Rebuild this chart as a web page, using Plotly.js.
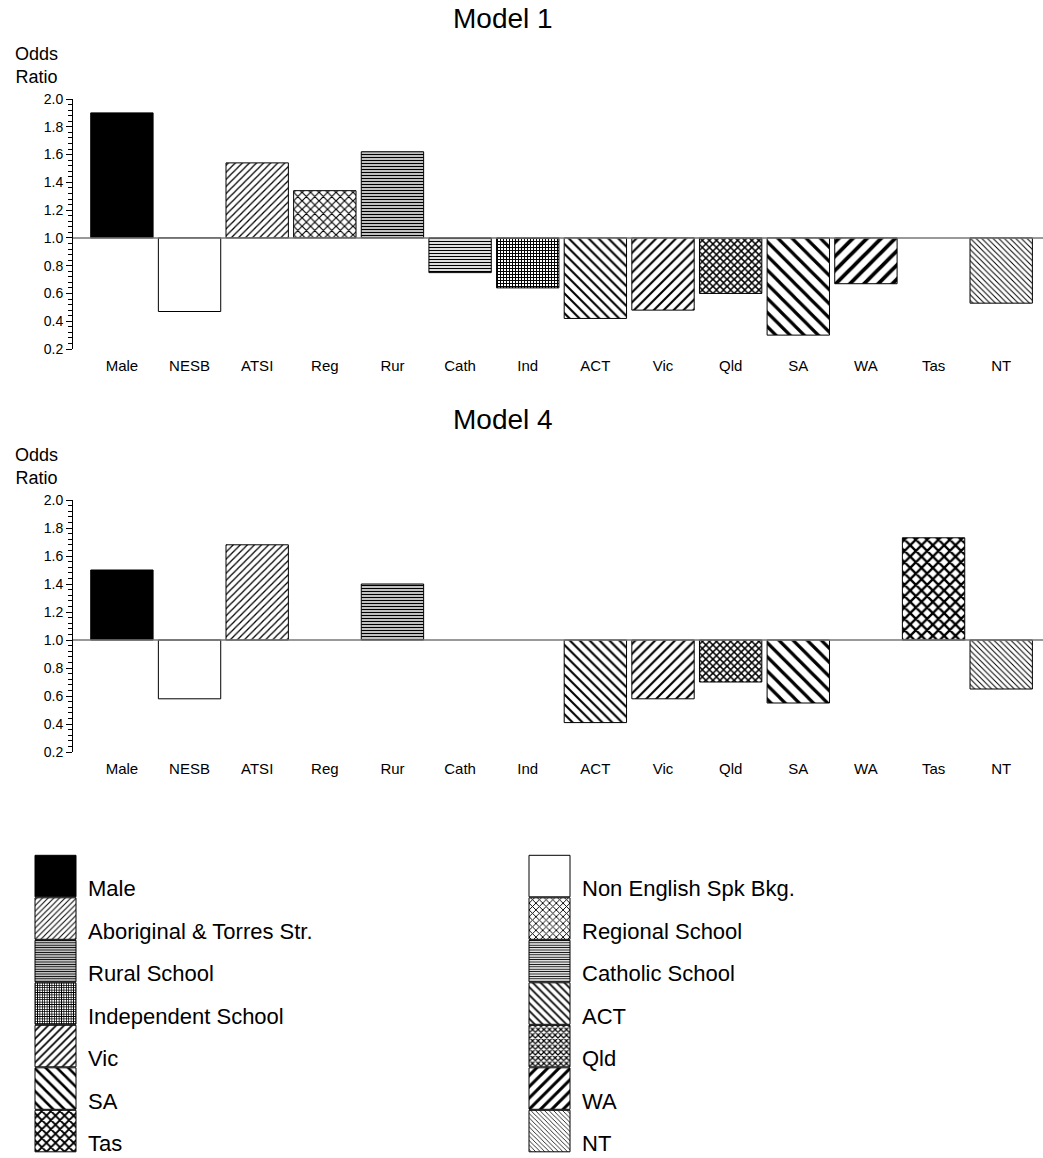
<!DOCTYPE html>
<html>
<head>
<meta charset="utf-8">
<script src="https://cdn.plot.ly/plotly-3.0.1.min.js"></script>
<style>
html,body{margin:0;padding:0;background:#fff;}
#chart{width:1043px;height:1158px;}
</style>
</head>
<body>
<div id="chart"></div>
<script>
// ---- data ----
var categories = ['Male','NESB','ATSI','Reg','Rur','Cath','Ind','ACT','Vic','Qld','SA','WA','Tas','NT'];
var legendLabels = ['Male','Non English Spk Bkg.','Aboriginal & Torres Str.','Regional School','Rural School','Catholic School','Independent School','ACT','Vic','Qld','SA','WA','Tas','NT'];
var model1 = [1.90, 0.47, 1.54, 1.34, 1.62, 0.75, 0.64, 0.42, 0.48, 0.60, 0.30, 0.67, null, 0.53];
var model4 = [1.50, 0.58, 1.68, null, 1.40, null, null, 0.41, 0.58, 0.70, 0.55, null, 1.73, 0.65];
var yTickVals = [0.2, 0.4, 0.6, 0.8, 1.0, 1.2, 1.4, 1.6, 1.8, 2.0];
var yTickText = ['0.2','0.4','0.6','0.8','1.0','1.2','1.4','1.6','1.8','2.0'];

// ---- styles (fill patterns per category) ----
var styles = [
  {color:'#000000'},
  {color:'#ffffff'},
  {shape:'/',  size:5,  solidity:0.25},
  {shape:'x',  size:6,  solidity:0.35},
  {shape:'-',  size:3,  solidity:0.5},
  {shape:'-',  size:3,  solidity:0.42},
  {shape:'+',  size:3,  solidity:0.55},
  {shape:'\\', size:7,  solidity:0.3},
  {shape:'/',  size:7,  solidity:0.3},
  {shape:'x',  size:5,  solidity:0.5},
  {shape:'\\', size:10, solidity:0.32},
  {shape:'/',  size:10, solidity:0.38},
  {shape:'x',  size:8,  solidity:0.5},
  {shape:'\\', size:4,  solidity:0.25}
];

function markerFor(i){
  var s = styles[i];
  var m = {line:{color:'#000', width:1}};
  if (s.shape) {
    m.color = '#ffffff';
    m.pattern = {shape:s.shape, size:s.size, solidity:s.solidity, fgcolor:'#000', fgopacity:1, bgcolor:'#fff', fillmode:'replace'};
  } else {
    m.color = s.color;
  }
  return m;
}

var traces = [];
function addModel(vals, xa, ya, withLegend){
  for (var i = 0; i < categories.length; i++) {
    var v = vals[i];
    traces.push({
      type:'bar',
      x:[categories[i]],
      y:[v === null ? null : v - 1],
      base:1,
      width:0.922,
      name:legendLabels[i],
      legendgroup:'g'+i,
      legend: (i % 2 === 0) ? 'legend' : 'legend2',
      showlegend: withLegend,
      marker: markerFor(i),
      xaxis:xa, yaxis:ya,
      hoverinfo:'x+y'
    });
  }
}
addModel(model1, 'x', 'y', true);
addModel(model4, 'x2', 'y2', false);

var fontFam = 'Arial, "Liberation Sans", sans-serif';

function yAxis(domain){
  return {
    domain:domain, range:[0.2, 2.0], autorange:false,
    showgrid:false, zeroline:false,
    showline:true, linecolor:'#000', linewidth:1,
    ticks:'outside', ticklen:6, tickwidth:1, tickcolor:'#000',
    tickvals:yTickVals, ticktext:yTickText,
    tickfont:{size:14, color:'#000', family:fontFam},
    minor:{dtick:0.04, tick0:0.2, ticks:'outside', ticklen:4, tickwidth:1, tickcolor:'#000', showgrid:false},
    fixedrange:true
  };
}
function xAxis(domain){
  return {
    domain:domain, type:'category', range:[-0.723, 13.618], autorange:false,
    categoryorder:'array', categoryarray:categories,
    showgrid:false, zeroline:false, showline:false, ticks:'',
    tickangle:0, ticklabelstandoff:6,
    tickfont:{size:15, color:'#000', family:fontFam},
    fixedrange:true
  };
}

var legendCommon = {
  orientation:'v', bgcolor:'rgba(0,0,0,0)', borderwidth:0,
  font:{size:22, color:'#000', family:fontFam},
  itemwidth:55, tracegroupgap:10.9,
  xanchor:'left', yanchor:'top', xref:'container', yref:'container',
  itemclick:false, itemdoubleclick:false
};

var layout = {
  width:1043, height:1158,
  margin:{l:73, r:0, t:0, b:0, pad:0, autoexpand:false},
  paper_bgcolor:'#fff', plot_bgcolor:'#fff',
  font:{family:fontFam, color:'#000'},
  barmode:'overlay',
  showlegend:true,
  xaxis: xAxis([0,1]),
  yaxis: Object.assign(yAxis([1-349/1158, 1-99/1158]), {anchor:'x'}),
  xaxis2: Object.assign(xAxis([0,1]), {anchor:'y2'}),
  yaxis2: Object.assign(yAxis([1-752/1158, 1-500/1158]), {anchor:'x2'}),
  legend: Object.assign({}, legendCommon, {x:23/1043, y:1-867/1158}),
  legend2: Object.assign({}, legendCommon, {x:517/1043, y:1-867/1158}),
  shapes:[
    {type:'line', xref:'paper', yref:'y', x0:0, x1:1, y0:1, y1:1, line:{color:'#777', width:1.5}, layer:'above'},
    {type:'line', xref:'paper', yref:'y2', x0:0, x1:1, y0:1, y1:1, line:{color:'#777', width:1.5}, layer:'above'}
  ],
  annotations:[
    {text:'Model 1', xref:'paper', yref:'paper', x:0.443, y:1-18/1158, showarrow:false, xanchor:'center', yanchor:'middle', font:{size:28, color:'#000'}},
    {text:'Model 4', xref:'paper', yref:'paper', x:0.443, y:1-420/1158, showarrow:false, xanchor:'center', yanchor:'middle', font:{size:28, color:'#000'}},
    {text:'Odds<br>Ratio', xref:'paper', yref:'paper', x:-0.038, y:1-66/1158, showarrow:false, xanchor:'center', yanchor:'middle', align:'center', font:{size:18, color:'#000'}},
    {text:'Odds<br>Ratio', xref:'paper', yref:'paper', x:-0.038, y:1-466/1158, showarrow:false, xanchor:'center', yanchor:'middle', align:'center', font:{size:18, color:'#000'}}
  ]
};

Plotly.newPlot('chart', traces, layout, {displayModeBar:false, staticPlot:true}).then(function(gd){
  // enlarge legend swatches to tall boxes like the original key
  gd.querySelectorAll('g.infolayer > g').forEach(function(lg){
    var cls = lg.getAttribute('class') || '';
    if (cls.indexOf('legend') !== 0) return;
    lg.querySelectorAll('[clip-path]').forEach(function(el){ el.removeAttribute('clip-path'); });
  });
  gd.querySelectorAll('g.legendpoints path').forEach(function(p){
    p.setAttribute('d', 'M-20.5,9H20.5V-32.5H-20.5Z');
  });
});
</script>
</body>
</html>
